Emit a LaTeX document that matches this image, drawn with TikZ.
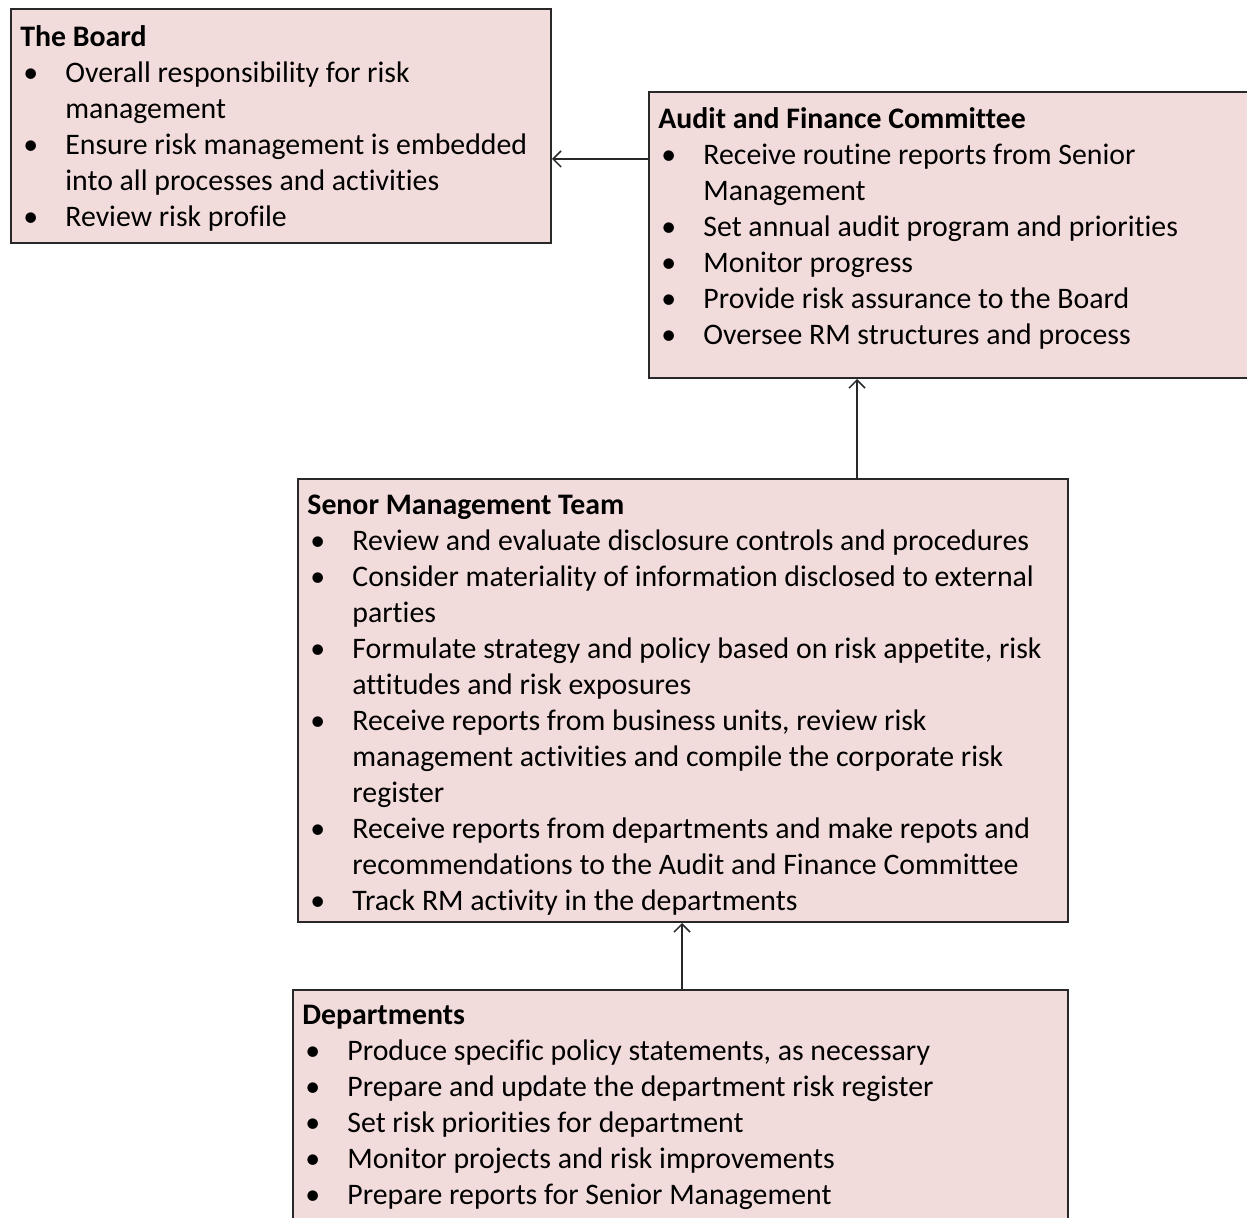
\documentclass[tikz,border=0pt]{standalone}
\usepackage{fontspec}
\setmainfont{Carlito}[Ligatures=NoCommon]
\usetikzlibrary{arrows.meta}
\definecolor{boxpink}{RGB}{242,220,219}
\definecolor{boxline}{RGB}{40,40,40}
\newcommand\bul[1]{\makebox[22.5pt][l]{\hspace{1.5pt}\textbullet}#1}
\newcommand\cnt[1]{\hspace*{22.5pt}#1}

\begin{document}
\begin{tikzpicture}[x=0.5pt,y=-0.5pt,
  box/.style={draw=boxline, fill=boxpink, line width=1pt, rectangle, anchor=north west, inner sep=0},
  txt/.style={anchor=north west, align=left, inner sep=0, font=\fontsize{14.9}{18}\selectfont},
  arr/.style={draw=boxline, line width=0.75pt, -{Straight Barb[length=4pt,width=8pt]}}]
\useasboundingbox (0,0) rectangle (1247,1218);
\clip (0,0) rectangle (1247,1218);

% boxes
\node[box, minimum width=270pt, minimum height=117pt] (board) at (10,8) {};
\node[box, minimum width=310pt, minimum height=143pt] (audit) at (648,91) {};
\node[box, minimum width=385pt, minimum height=221.5pt] (smt) at (297,478) {};
\node[box, minimum width=387.5pt, minimum height=130pt] (dept) at (292,989) {};

% texts
\node[txt] (boardtxt) at (20,25) {\textbf{The Board}\\
  \bul{Overall responsibility for risk}\\
  \cnt{management}\\
  \bul{Ensure risk management is embedded}\\
  \cnt{into all processes and activities}\\
  \bul{Review risk profile}};
\node[txt] (audittxt) at (658,107) {\textbf{Audit and Finance Committee}\\
  \bul{Receive routine reports from Senior}\\
  \cnt{Management}\\
  \bul{Set annual audit program and priorities}\\
  \bul{Monitor progress}\\
  \bul{Provide risk assurance to the Board}\\
  \bul{Oversee RM structures and process}};
\node[txt] (smttxt) at (307,495) {\textbf{Senor Management Team}\\
  \bul{Review and evaluate disclosure controls and procedures}\\
  \bul{Consider materiality of information disclosed to external}\\
  \cnt{parties}\\
  \bul{Formulate strategy and policy based on risk appetite, risk}\\
  \cnt{attitudes and risk exposures}\\
  \bul{Receive reports from business units, review risk}\\
  \cnt{management activities and compile the corporate risk}\\
  \cnt{register}\\
  \bul{Receive reports from departments and make repots and}\\
  \cnt{recommendations to the Audit and Finance Committee}\\
  \bul{Track RM activity in the departments}};
\node[txt] (depttxt) at (302,1005) {\textbf{Departments}\\
  \bul{Produce specific policy statements, as necessary}\\
  \bul{Prepare and update the department risk register}\\
  \bul{Set risk priorities for department}\\
  \bul{Monitor projects and risk improvements}\\
  \bul{Prepare reports for Senior Management}};

% connectors
\coordinate (a1) at (0,159);
\coordinate (a2) at (857,0);
\coordinate (a3) at (682,0);
\path[arr] (audit.west |- a1) -- (board.east |- a1);
\path[arr] (smt.north -| a2) -- (audit.south -| a2);
\path[arr] (dept.north -| a3) -- (smt.south -| a3);
\end{tikzpicture}
\end{document}
